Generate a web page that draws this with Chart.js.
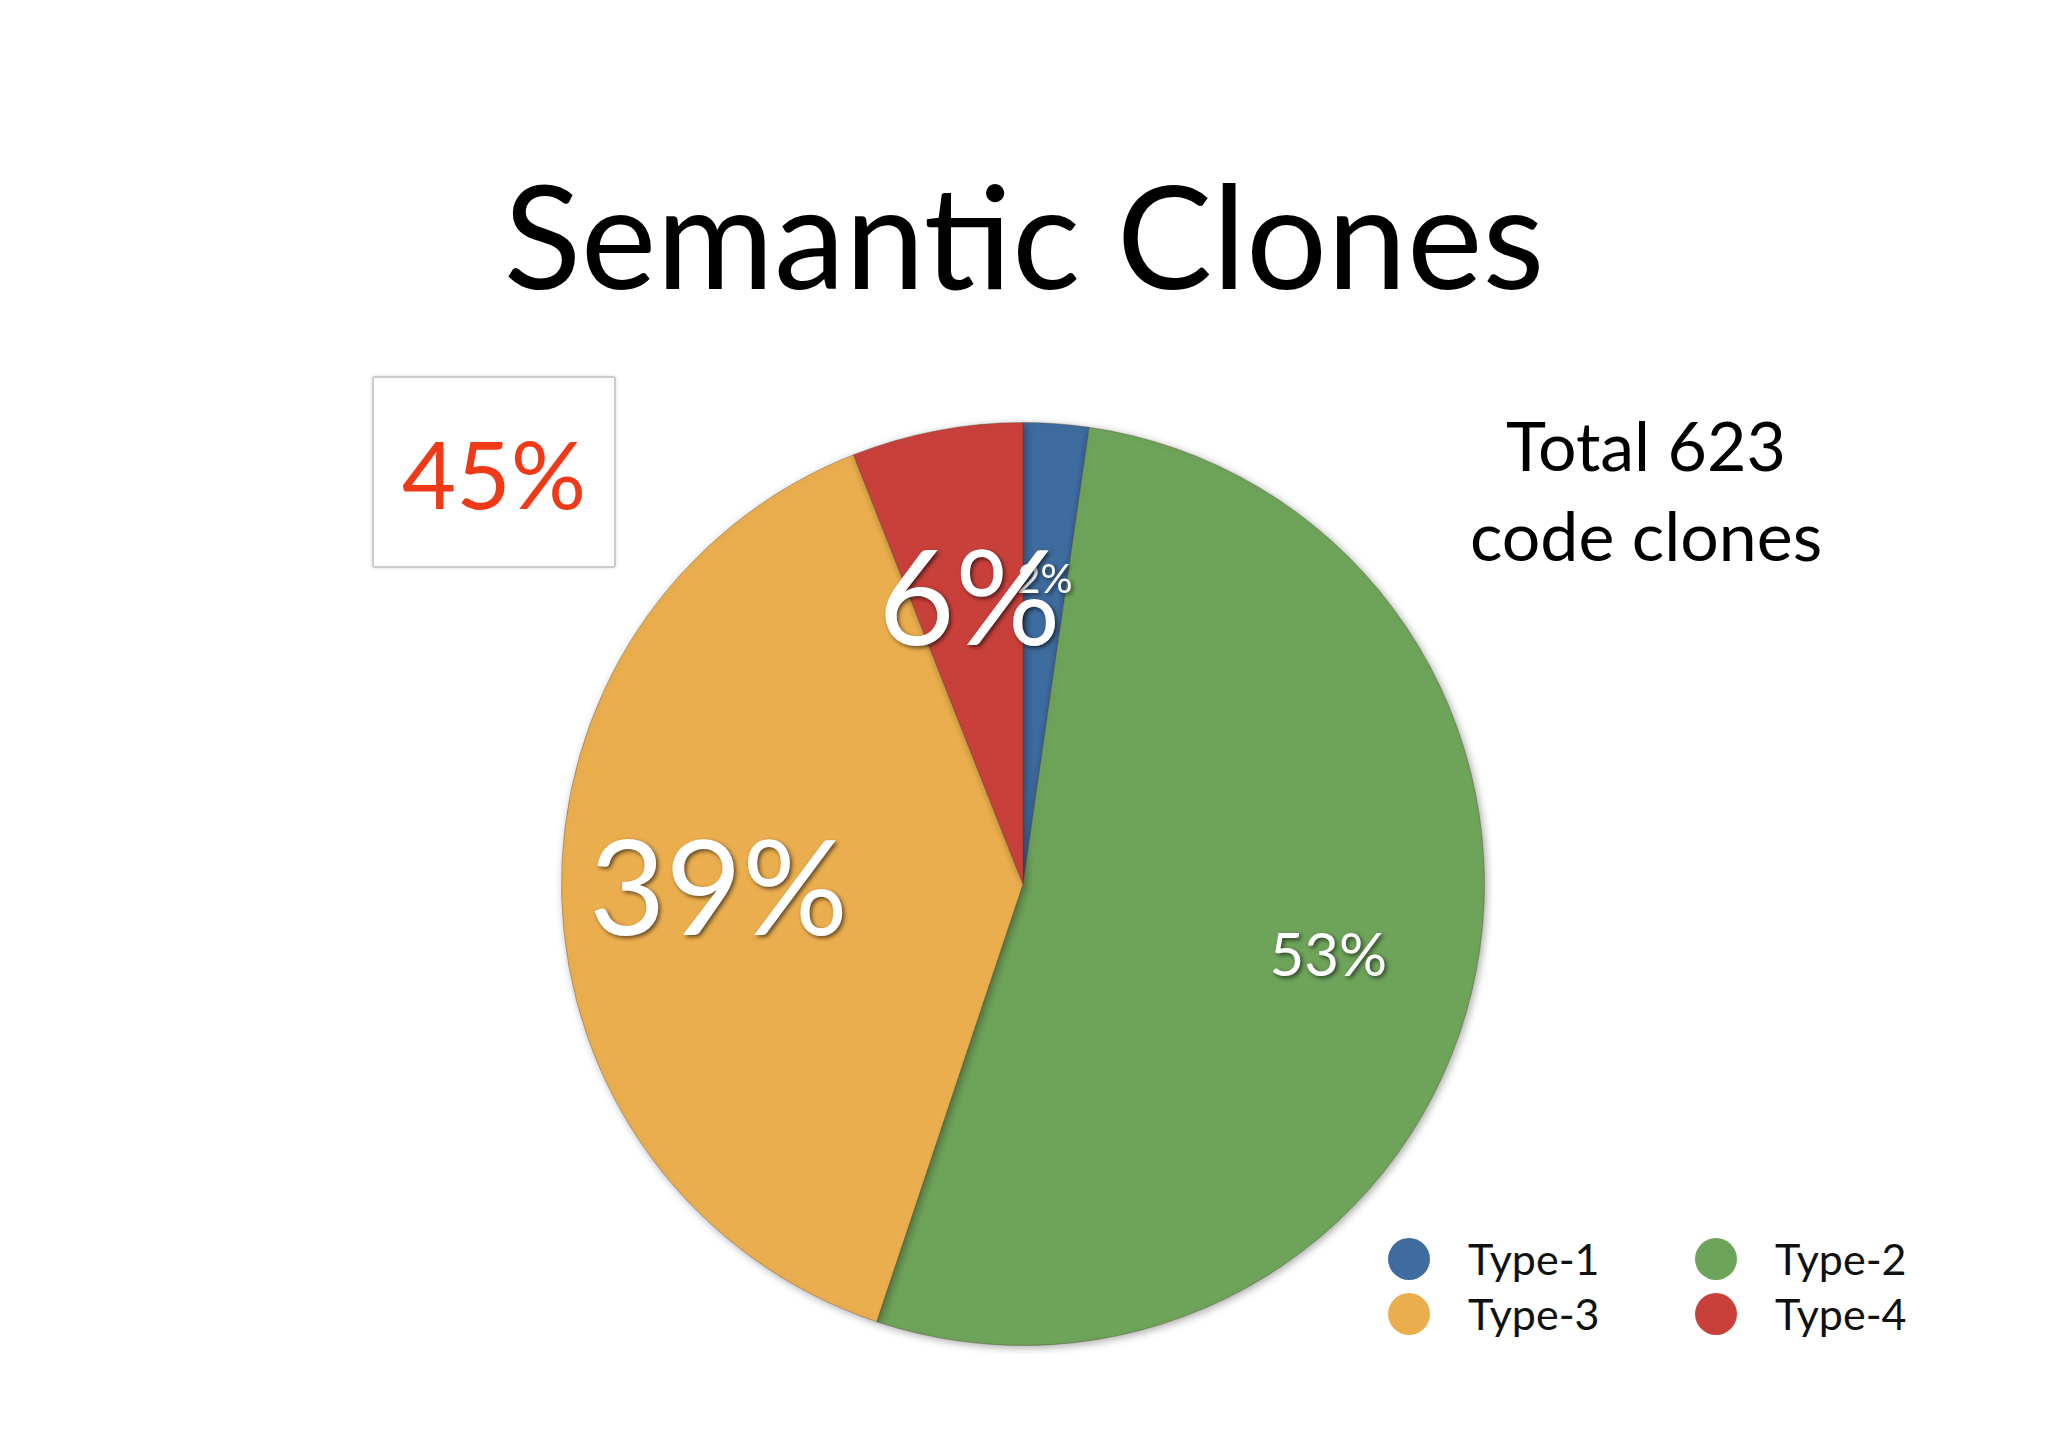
<!DOCTYPE html>
<html><head><meta charset="utf-8">
<script src="https://cdn.jsdelivr.net/npm/chart.js@4"></script>
<style>
body{margin:0;width:2048px;height:1447px;background:#fff;position:relative;overflow:hidden;font-family:Lato,"Open Sans",sans-serif}
.abs{position:absolute}
#title{left:0;width:2048px;top:162px;text-align:center;font-size:143px;color:#000;line-height:1}
#total{left:1446px;width:400px;top:400px;text-align:center;font-size:68px;line-height:90px;color:#000}
#box{left:372px;top:376px;width:240px;height:188px;border:2px solid #ccc;border-radius:3px;box-shadow:0 0 4px #ddd;display:flex;align-items:center;justify-content:center;color:#f03a17;font-size:94px}
.lg{font-size:43px;color:#111;display:flex;align-items:center}
.dot{width:42px;height:42px;border-radius:50%;margin-right:38px}
#wrap{left:553px;top:414px;width:940px;height:940px}
</style></head><body>
<div id="title" class="abs">Semantic Clones</div>
<div id="total" class="abs">Total 623<br>code clones</div>
<div id="box" class="abs">45%</div>
<div id="legend"></div>
<div id="wrap" class="abs"><canvas id="c"></canvas></div>
<script>
const categories=["Type-1","Type-2","Type-3","Type-4"];
const values=[2.3,53,39,6];
const labelsText=["2%","53%","39%","6%"];
const labelSizes=[40,60,132,132];
const labelRadius=[0.66,0.68,0.66,0.62];
const colors=["#3e6c9f","#6ea35a","#ebae4e","#c9403b"];
const legendPos=[[1388,1233],[1695,1233],[1388,1288],[1695,1288]];
const lg=document.getElementById('legend');
categories.forEach((c,i)=>{const d=document.createElement('div');d.className='abs lg';d.style.left=legendPos[i][0]+'px';d.style.top=legendPos[i][1]+'px';d.innerHTML='<div class="dot" style="background:'+colors[i]+'"></div>'+c;lg.appendChild(d);});
const shadow={id:'shadow',beforeDatasetsDraw(ch){const x=ch.ctx;x.save();x.shadowColor='rgba(0,0,0,0.35)';x.shadowBlur=8;x.shadowOffsetX=2;x.shadowOffsetY=2;},afterDatasetsDraw(ch){ch.ctx.restore();}};
const lbl={id:'lbl',afterDraw(ch){const x=ch.ctx;ch.getDatasetMeta(0).data.forEach((a,i)=>{const p=a.getProps(['x','y','startAngle','endAngle','outerRadius'],true);const m=(p.startAngle+p.endAngle)/2;const r=p.outerRadius*labelRadius[i];const px=p.x+Math.cos(m)*r,py=p.y+Math.sin(m)*r;x.save();x.font=labelSizes[i]+'px Lato, sans-serif';x.textAlign='center';x.textBaseline='middle';x.fillStyle='#fff';x.shadowColor='rgba(0,0,0,0.6)';x.shadowBlur=4;x.shadowOffsetX=2;x.shadowOffsetY=2;x.fillText(labelsText[i],px,py);x.restore();});}};
new Chart(document.getElementById('c'),{type:'pie',data:{labels:categories,datasets:[{data:values,backgroundColor:colors,borderColor:'rgba(80,60,40,0.35)',borderWidth:1}]},
options:{responsive:true,maintainAspectRatio:false,animation:false,layout:{padding:8},plugins:{legend:{display:false},tooltip:{enabled:false}}},plugins:[shadow,lbl]});
</script></body></html>
